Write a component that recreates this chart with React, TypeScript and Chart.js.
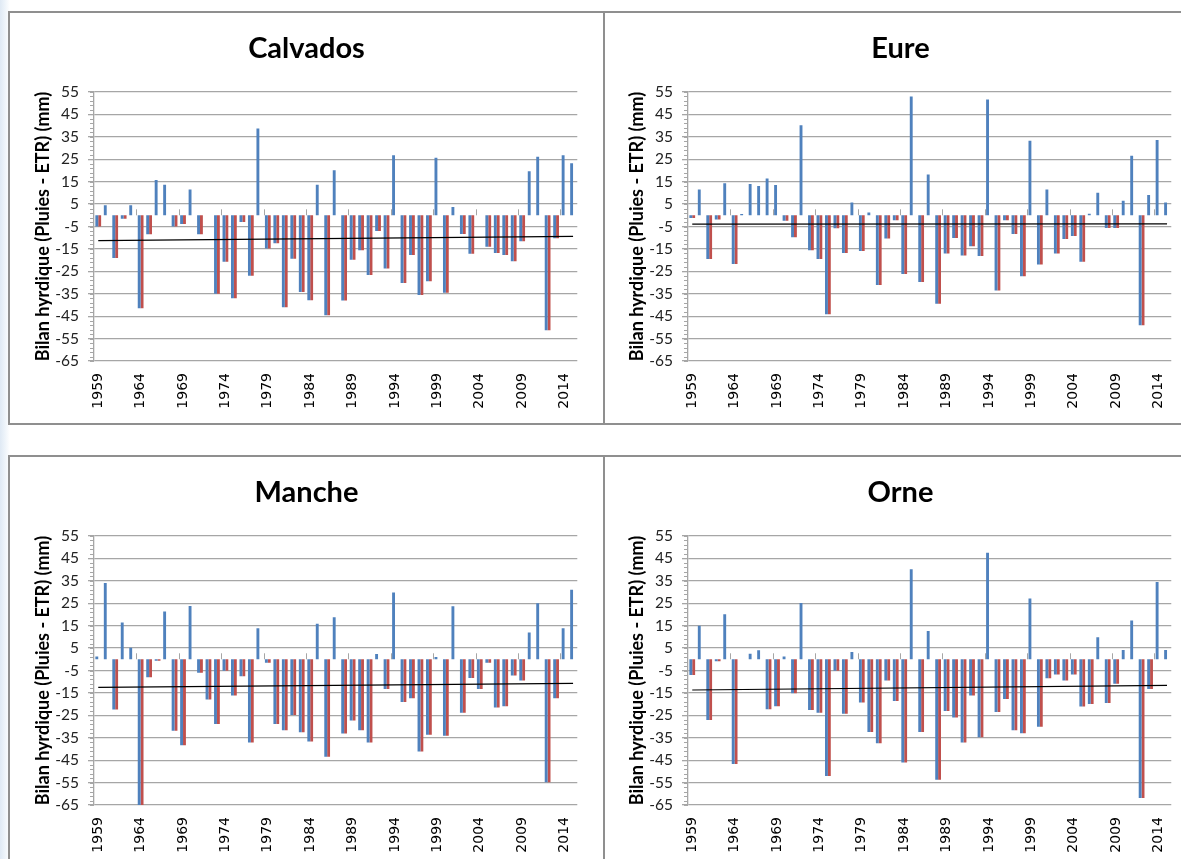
import React, { useEffect, useRef } from 'react';
import { Chart, registerables } from 'chart.js';

Chart.register(...registerables);

// ---------- data ----------
const years = [
  '1959', '1960', '1961', '1962', '1963', '1964', '1965', '1966', '1967', '1968',
  '1969', '1970', '1971', '1972', '1973', '1974', '1975', '1976', '1977', '1978',
  '1979', '1980', '1981', '1982', '1983', '1984', '1985', '1986', '1987', '1988',
  '1989', '1990', '1991', '1992', '1993', '1994', '1995', '1996', '1997', '1998',
  '1999', '2000', '2001', '2002', '2003', '2004', '2005', '2006', '2007', '2008',
  '2009', '2010', '2011', '2012', '2013', '2014', '2015',
];

const shownYears = ['1959', '1964', '1969', '1974', '1979', '1984', '1989', '1994', '1999', '2004', '2009', '2014'];

const yTicks = { min: -65, max: 55, step: 10 };

const calvados = [
  -5, 4.5, -19, -1.5, 4.5, -41.5, -8.5, 15.7, 13.6, -5,
  -3.9, 11.5, -8.5, 0, -35, -20.7, -37, -3, -27, 38.7,
  -14.8, -12.5, -41, -19.4, -34.2, -37.9, 13.6, -44.6, 20.1, -38,
  -19.8, -15.6, -26.6, -7, -23.7, 26.8, -30.2, -17.7, -35.6, -29.4,
  25.7, -34.5, 3.7, -8.3, -17.2, 0, -14, -16.8, -17.7, -20.5,
  -11.6, 19.6, 26.1, -51.3, -10.2, 26.8, 23.2,
];
const calvadosTrend = [-11.3, -9.4];

const eure = [
  -1.2, 11.5, -19.5, -1.9, 14.3, -21.7, 0.6, 14, 13.1, 16.4,
  13.5, -2.4, -9.8, 40.2, -15.6, -19.5, -44.2, -5.8, -16.8, 5.7,
  -15.9, 1.2, -31.1, -10.3, -2.2, -26.2, 53, -29.8, 18.2, -39.5,
  -17.1, -10.1, -17.9, -13.8, -18.2, 51.6, -33.5, -2.2, -8.3, -27.2,
  33.2, -22, 11.5, -17.1, -10.6, -9.2, -20.7, 0.7, 10.1, -5.7,
  -5.7, 6.5, 26.6, -49.1, 9.1, 33.6, 5.7,
];
const eureTrend = [-3.9, -3.8];

const manche = [
  1.2, 34, -22.4, 16.4, 5.1, -65, -8, -0.6, 21.3, -31.9,
  -38.3, 23.8, -6, -17.9, -28.9, -5.1, -16.2, -7.6, -37.1, 13.9,
  -1.5, -28.9, -31.7, -24.9, -32.6, -36.7, 15.9, -43.5, 18.8, -33.1,
  -27.3, -31.7, -37.1, 2.4, -13.3, 29.8, -19.1, -17.4, -41.1, -33.7,
  1, -34.1, 23.7, -23.8, -8.3, -13.3, -1.5, -21.5, -21, -7.2,
  -9.5, 11.9, 25, -54.8, -17.4, 13.9, 31,
];
const mancheTrend = [-12.5, -10.7];

const orne = [
  -7, 15, -27.1, -0.9, 20.1, -46.7, 0, 2.5, 4, -22.3,
  -21, 1.2, -15.2, 25.1, -22.6, -23.8, -52.1, -5.1, -24.3, 3.3,
  -19.3, -32.4, -37.4, -9.5, -18.6, -46, 40.2, -32.4, 12.6, -53.7,
  -23.1, -26, -37.1, -16.2, -34.8, 47.5, -23.5, -17.7, -31.7, -33,
  27.1, -30.1, -8.5, -6.8, -9.5, -6.8, -21.1, -19.9, 9.8, -19.5,
  -10.9, 4.2, 17.3, -61.9, -13.2, 34.5, 4.2,
];
const orneTrend = [-13.7, -11.6];

const yTitle = 'Bilan hyrdique (Pluies - ETR) (mm)';

// ---------- styles ----------
const BLUE = '#4F81BD';
const RED = '#C0504D';
const GRID = '#a6a6a6';
const CANVAS_W = 591;
const CANVAS_H = 408;
const PLOT_LEFT = 83;
const Y_TITLE_SIZE = 18;
const Y_TITLE_CENTER = 32;

const excelTicks = {
  id: 'excelTicks',
  afterDatasetsDraw(chart: any) {
    const { ctx, scales } = chart;
    const x = scales.x;
    const y = scales.y;
    ctx.save();
    ctx.strokeStyle = GRID;
    ctx.lineWidth = 1;
    for (let v = yTicks.min; v <= yTicks.max; v += 2) {
      const py = Math.round(y.getPixelForValue(v)) + 0.5;
      ctx.beginPath();
      ctx.moveTo(y.right - 4, py);
      ctx.lineTo(y.right, py);
      ctx.stroke();
    }
    const zero = y.getPixelForValue(0);
    const n = years.length;
    for (let i = 5; i < n; i += 5) {
      const px = Math.round((x.getPixelForValue(i - 1) + x.getPixelForValue(i)) / 2) + 0.5;
      ctx.beginPath();
      ctx.moveTo(px, zero - 6);
      ctx.lineTo(px, zero);
      ctx.stroke();
    }
    ctx.restore();
  },
};

type PanelProps = {
  title: string;
  values: number[];
  trend: number[];
  left: number;
  top: number;
  width: number;
  height: number;
  padSide: number;
  canvasLeft: number;
};

function Panel({ title, values, trend, left, top, width, height, padSide, canvasLeft }: PanelProps) {
  const ref = useRef<HTMLCanvasElement>(null);

  useEffect(() => {
    if (!ref.current) return;
    const deficit = values.map((v) => (v < 0 ? v : null));
    const trendLine = years.map((_, i) => (i === 0 ? trend[0] : i === years.length - 1 ? trend[1] : null));

    const chart = new Chart(ref.current, {
      type: 'bar',
      data: {
        labels: years,
        datasets: [
          {
            type: 'line',
            data: trendLine as any,
            borderColor: '#000',
            borderWidth: 1.2,
            pointRadius: 0,
            spanGaps: true,
            order: 0,
          } as any,
          {
            type: 'bar',
            data: values,
            backgroundColor: BLUE,
            categoryPercentage: 0.68,
            barPercentage: 1,
            order: 1,
          },
          {
            type: 'bar',
            data: deficit as any,
            backgroundColor: RED,
            categoryPercentage: 0.68,
            barPercentage: 1,
            order: 1,
          },
        ],
      },
      options: {
        responsive: false,
        animation: false,
        layout: { padding: { left: padSide, right: padSide, top: 0, bottom: 0 } },
        plugins: {
          legend: { display: false },
          tooltip: { enabled: false },
          title: {
            display: true,
            text: title,
            color: '#000',
            font: { family: 'Lato', size: 29, weight: 'bold' },
            padding: { top: 17, bottom: 26.2 },
          },
        },
        scales: {
          x: {
            grid: { display: false, drawTicks: false },
            border: { display: false },
            ticks: {
              autoSkip: false,
              minRotation: 90,
              maxRotation: 90,
              padding: 12,
              color: '#000',
              font: { family: 'DejaVu Sans', size: 14 },
              callback: (_v: any, i: number) => (shownYears.includes(years[i]) ? years[i] : ''),
            },
            afterFit: (s: any) => {
              s.height = 61;
            },
          },
          y: {
            min: yTicks.min,
            max: yTicks.max,
            ticks: {
              stepSize: yTicks.step,
              color: '#222',
              padding: 9,
              font: { family: 'Lato', size: 15.5 },
            },
            grid: {
              color: GRID,
              lineWidth: 1.3,
              drawTicks: true,
              tickLength: 6,
              tickColor: GRID,
            },
            border: { display: true, color: GRID, width: 1.3 },
            title: {
              display: true,
              text: yTitle,
              color: '#000',
              font: { family: 'Lato', size: Y_TITLE_SIZE, weight: 'bold' },
              padding: { top: Y_TITLE_CENTER - padSide - (Y_TITLE_SIZE * 1.2) / 2, bottom: 0 },
            },
            afterFit: (s: any) => {
              s.width = PLOT_LEFT - padSide;
            },
          },
        },
      },
      plugins: [excelTicks],
    } as any);

    return () => chart.destroy();
  }, [title, values, trend, padSide]);

  return (
    <div
      style={{
        position: 'absolute',
        left,
        top,
        width,
        height,
        boxSizing: 'border-box',
        border: '2px solid #8f8f8f',
        background: '#ffffff',
        overflow: 'hidden',
      }}
    >
      <canvas
        ref={ref}
        width={CANVAS_W}
        height={CANVAS_H}
        style={{ position: 'absolute', left: canvasLeft, top: 1, width: CANVAS_W, height: CANVAS_H }}
      />
    </div>
  );
}

export default function App() {
  return (
    <div
      style={{
        position: 'fixed',
        left: 0,
        top: 0,
        width: 1181,
        height: 859,
        overflow: 'hidden',
        background: 'linear-gradient(90deg, #dfe9f4 0px, #eef4fa 5px, #ffffff 10px)',
      }}
    >
      <Panel title="Calvados" values={calvados} trend={calvadosTrend} left={8} top={11} width={597} height={414} padSide={17} canvasLeft={1} />
      <Panel title="Eure" values={eure} trend={eureTrend} left={603} top={11} width={600} height={414} padSide={19} canvasLeft={0} />
      <Panel title="Manche" values={manche} trend={mancheTrend} left={8} top={455} width={597} height={420} padSide={17} canvasLeft={1} />
      <Panel title="Orne" values={orne} trend={orneTrend} left={603} top={455} width={600} height={420} padSide={19} canvasLeft={0} />
    </div>
  );
}
